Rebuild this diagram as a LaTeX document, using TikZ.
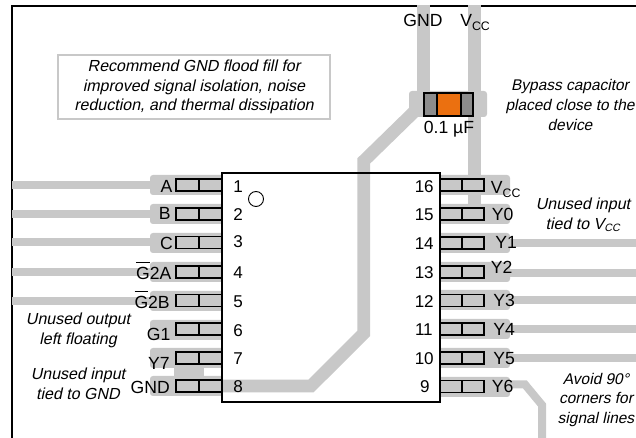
\documentclass[tikz,border=0pt]{standalone}
\usepackage{fontspec}
\setmainfont{Liberation Sans}[ItalicFont={Liberation Sans Italic}]
\newfontfamily\slantfont{Liberation Sans}[FakeSlant=0.21]
\definecolor{trace}{RGB}{200,200,200}
\definecolor{capend}{RGB}{140,140,140}
\definecolor{capmid}{RGB}{235,112,16}
\newcommand{\ovl}[1]{\rlap{\smash{\raisebox{0.9em}{\rule{0.76em}{0.6pt}}}}#1}
\begin{document}
\begin{tikzpicture}[x=0.75pt,y=-0.75pt,
  tr/.style={line width=6pt,draw=trace},
  trn/.style={line width=9.5pt,draw=trace},
  seg/.style={draw=black,line width=1pt},
  lbl/.style={font=\fontsize{13.2}{14}\selectfont,inner sep=0pt},
  note/.style={font=\fontsize{12}{14.8}\slantfont,inner sep=0pt,align=center},
  notesm/.style={font=\fontsize{11.6}{14.8}\slantfont,inner sep=0pt,align=center},
  pinno/.style={font=\fontsize{12.8}{14}\selectfont,inner sep=0pt}]
\useasboundingbox (0,0) rectangle (636,438);
% board edge
\draw[line width=1.4pt] (12,438) -- (12,5.6) -- (636,5.6);
% left pads and traces
\foreach \y in {185,214,243,272,301,330,358,386}{
  \fill[trace,rounded corners=2.2pt] (150,\y-10) rectangle (240,\y+10);}
\foreach \y in {185,214,242,272,301}{
  \draw[tr] (12,\y) -- (152,\y);}
\fill[trace] (174,365) rectangle (204,378);
% right pads and traces
\foreach \y in {185,214,243,272,300,329,358,387}{
  \fill[trace,rounded corners=2.2pt] (430,\y-10) rectangle (510,\y+10);}
\foreach \y in {243,273,300.5,329.5,358}{
  \draw[tr] (505,\y) -- (636,\y);}
\draw[tr] (505,384.5) -- (525,384.5) -- (542,405) -- (542,438);
% chip
\node[draw=black,fill=white,line width=0.9pt,minimum width=162.75pt,minimum height=171pt,inner sep=0pt,anchor=north west] (chip) at (222,173) {};
% supply traces
\draw[trn] (222,386) -- (311,386) -- (363.7,333.5) -- (363.7,161) -- (416,110);
\draw[trn] (423.5,5) -- (423.5,100);
\draw[trn] (474.5,5) -- (474.5,204);
\draw[draw=black,line width=1pt] (chip.north west) rectangle (chip.south east);
\fill[trace,rounded corners=2.2pt] (409,91) rectangle (487,117);
% capacitor
\draw[draw=black,fill=capend,line width=0.9pt] (424,93) rectangle (437,116);
\draw[draw=black,fill=capend,line width=0.9pt] (461,93) rectangle (473,116);
\draw[draw=black,fill=capmid,line width=0.9pt] (437,93) rectangle (461,116);
% pin feet
\foreach \y in {185,214,242.5,272,300.5,329,358,386}{
  \draw[seg] (222,\y-6) -- (176,\y-6) -- (176,\y+6) -- (222,\y+6);
  \draw[seg] (199,\y-6) -- (199,\y+6);}
\foreach \y in {185,214,243,272,300.5,329,358,386.5}{
  \draw[seg] (439,\y-6) -- (484,\y-6) -- (484,\y+6) -- (439,\y+6);
  \draw[seg] (462,\y-6) -- (462,\y+6);}
\draw[line width=0.7pt] (256,199) circle (7.5);
% pin numbers
\foreach \n/\y in {1/186.5,2/215,3/242,4/273,5/302,6/331,7/359,8/387}{
  \node[pinno,anchor=west] (p\n) at (233,\y) {\n};}
\foreach \n/\y/\x in {16/186.5/434,15/215/434,14/244/434,13/273/434,12/302/434,11/330/433,10/359/434,9/387/430}{
  \node[pinno,anchor=east] (p\n) at (\x,\y) {\n};}
% left labels
\node[lbl,anchor=east] (la) at (172.7,186.7) {A};
\node[lbl,anchor=east] (lb) at (171,213) {B};
\node[lbl,anchor=east] (lc) at (173,243) {C};
\node[lbl,anchor=east] (lg2a) at (171.7,273) {\ovl{G}2A};
\node[lbl,anchor=east] (lg2b) at (170,302) {\ovl{G}2B};
\node[lbl,anchor=east] (lg1) at (170.7,334) {G1};
\node[lbl,anchor=east] (ly7) at (170,363) {Y7};
\node[lbl,anchor=east] (lgnd) at (170,387) {GND};
% right labels
\node[lbl,anchor=base west] (rv) at (490.7,194) {V\textsubscript{CC}};
\node[lbl,anchor=west] (r0) at (491.7,214) {Y0};
\node[lbl,anchor=west] (r1) at (495,242.7) {Y1};
\node[lbl,anchor=west] (r2) at (490.7,267) {Y2};
\node[lbl,anchor=west] (r3) at (493,300.7) {Y3};
\node[lbl,anchor=west] (r4) at (493,329) {Y4};
\node[lbl,anchor=west] (r5) at (493,359) {Y5};
\node[lbl,anchor=west] (r6) at (491.7,386.7) {Y6};
% top labels
\node[lbl,anchor=center] (tg) at (423,20.7) {GND};
\node[lbl,anchor=base west] (tv) at (460,27) {V\textsubscript{CC}};
\node[lbl,anchor=center] (cv) at (449,129) {0.1 µF};
% notes
\node[draw=trace,fill=white,line width=1pt,minimum width=204pt,minimum height=48pt,inner sep=0pt,note] (nb) at (194,87) {Recommend GND flood fill for\\improved signal isolation, noise\\reduction, and thermal dissipation};
\node[notesm] (n1) at (570,105) {Bypass capacitor\\placed close to the\\device};
\node[note] (n2) at (583,215) {Unused input\\tied to V\textsubscript{CC}};
\node[note] (n3) at (78,330) {Unused output\\left floating};
\node[note] (n4) at (78,384) {Unused input\\tied to GND};
\node[notesm] (n5) at (596,400) {Avoid 90°\\corners for\\signal lines};
\end{tikzpicture}
\end{document}
